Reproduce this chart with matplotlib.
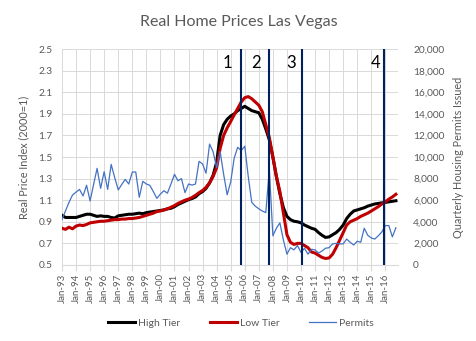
#!/usr/bin/env python3

import pandas as pd
import matplotlib.pyplot as plt
import matplotlib.dates as mdates
from matplotlib.transforms import blended_transform_factory

plt.rcParams['font.family'] = ['Lato', 'DejaVu Sans']

# quarterly values, Jan-93 .. Oct-16
dates = pd.date_range('1993-01-01', periods=96, freq='QS')

high_tier = [
    0.96, 0.94, 0.94, 0.94, 0.94, 0.95, 0.96, 0.97,
    0.97, 0.96, 0.95, 0.955, 0.95, 0.95, 0.94, 0.935,
    0.955, 0.96, 0.965, 0.97, 0.97, 0.975, 0.98, 0.975,
    0.985, 0.99, 0.995, 1.0, 1.005, 1.01, 1.02, 1.025,
    1.04, 1.06, 1.075, 1.09, 1.105, 1.115, 1.13, 1.16,
    1.18, 1.21, 1.26, 1.33, 1.45, 1.70, 1.80, 1.85,
    1.88, 1.90, 1.93, 1.95, 1.97, 1.95, 1.93, 1.92,
    1.91, 1.85, 1.76, 1.66, 1.50, 1.32, 1.16, 1.03,
    0.95, 0.92, 0.905, 0.90, 0.89, 0.87, 0.855, 0.84,
    0.83, 0.80, 0.775, 0.755, 0.76, 0.78, 0.80, 0.83,
    0.87, 0.93, 0.97, 1.0, 1.01, 1.02, 1.03, 1.045,
    1.055, 1.065, 1.07, 1.075, 1.08, 1.085, 1.09, 1.095,
]

low_tier = [
    0.84, 0.83, 0.85, 0.835, 0.86, 0.87, 0.865, 0.875,
    0.89, 0.895, 0.90, 0.905, 0.905, 0.91, 0.915, 0.92,
    0.92, 0.925, 0.925, 0.93, 0.93, 0.935, 0.94, 0.95,
    0.96, 0.97, 0.98, 0.995, 1.0, 1.01, 1.02, 1.035,
    1.05, 1.07, 1.085, 1.10, 1.11, 1.125, 1.145, 1.17,
    1.19, 1.22, 1.26, 1.32, 1.40, 1.58, 1.70, 1.77,
    1.83, 1.89, 1.95, 2.01, 2.05, 2.06, 2.04, 2.01,
    1.98, 1.92, 1.80, 1.68, 1.50, 1.32, 1.18, 0.98,
    0.78, 0.71, 0.69, 0.70, 0.70, 0.68, 0.66, 0.62,
    0.61, 0.59, 0.57, 0.56, 0.565, 0.60, 0.66, 0.73,
    0.80, 0.87, 0.90, 0.915, 0.93, 0.95, 0.965, 0.98,
    1.0, 1.02, 1.04, 1.065, 1.085, 1.11, 1.13, 1.155,
]

permits = [
    4200, 5000, 5800, 6480, 6750, 7000, 6390, 7380,
    5930, 7450, 8950, 7100, 8640, 7000, 9320, 8100,
    6950, 7450, 7930, 7500, 8610, 8610, 6270, 7750,
    7500, 7380, 6800, 6170, 6570, 6880, 6650, 7500,
    8400, 7800, 8000, 6700, 7500, 7400, 7500, 9600,
    9350, 8500, 11200, 10500, 9000, 10500, 8400, 6500,
    7700, 9900, 10900, 10600, 11000, 8200, 5800, 5450,
    5200, 5000, 4850, 8850, 2700, 3400, 3900, 2300,
    1000, 1600, 1400, 1800, 1150, 1550, 1000, 1450,
    1400, 1100, 1300, 1550, 1600, 1950, 2000, 1950,
    1950, 2400, 2100, 1850, 2200, 2100, 3400, 2750,
    2500, 2400, 2700, 3050, 3650, 3650, 2600, 3450,
]

# period markers
marker_dates = pd.to_datetime(['2005-10-01', '2007-09-20', '2010-01-15', '2015-12-05'])
marker_labels = ['1', '2', '3', '4']

GRAY = '#595959'
GRID = '#D9D9D9'

fig = plt.figure(figsize=(4.77, 3.41), dpi=100)
fig.subplots_adjust(left=0.130, right=0.834, top=0.856, bottom=0.223)
ax = fig.add_subplot(111)
ax2 = ax.twinx()

ax.plot(dates, high_tier, color='black', lw=2.2, label='High Tier')
ax.plot(dates, low_tier, color='#C00000', lw=2.2, label='Low Tier')
ax2.plot(dates, permits, color='#4472C4', lw=0.9, label='Permits')

ax.set_ylim(0.5, 2.5)
ax.set_yticks([0.5 + 0.2 * i for i in range(11)])
ax.yaxis.set_major_formatter(plt.FuncFormatter(lambda v, p: f'{v:.1f}'))
ax2.set_ylim(0, 20000)
ax2.set_yticks(range(0, 20001, 2000))
ax2.yaxis.set_major_formatter(plt.FuncFormatter(lambda v, p: f'{int(v):,}'))

ax.set_xlim(pd.Timestamp('1993-01-01'), pd.Timestamp('2016-11-20'))
ax.set_xticks(pd.date_range('1993-01-01', '2016-01-01', freq='YS'))
ax.xaxis.set_major_formatter(mdates.DateFormatter('%b-%y'))
plt.setp(ax.get_xticklabels(), rotation=90)

ax.grid(True, color=GRID, lw=0.7)
ax.set_axisbelow(True)
for a in (ax, ax2):
    for s in a.spines.values():
        s.set_visible(False)
ax.spines['bottom'].set_visible(True)
ax.spines['bottom'].set_color(GRID)

ax.tick_params(axis='y', length=0, labelsize=7.3, labelcolor=GRAY, pad=7)
ax2.tick_params(axis='y', length=0, labelsize=7.3, labelcolor=GRAY, pad=11)
ax.tick_params(axis='x', length=4, color=GRID, labelsize=7.0, labelcolor=GRAY, pad=2)

ax.set_ylabel('Real Price Index (2000=1)', color=GRAY, fontsize=7.8, labelpad=6)
ax2.set_ylabel('Quarterly Housing Permits Issued', color=GRAY, fontsize=7.8, labelpad=6)

fig.text(0.501, 0.935, 'Real Home Prices Las Vegas', ha='center', va='center',
         color=GRAY, fontsize=11.5)

# vertical period lines with their numbers
tr = blended_transform_factory(ax2.transData, ax2.transAxes)
offsets = [-10, -9, -7.5, -6.5]
for d, lab, off in zip(marker_dates, marker_labels, offsets):
    ax2.axvline(d, color='#002060', lw=1.5)
    ax2.annotate(lab, xy=(mdates.date2num(d), 0.935), xycoords=tr,
                 xytext=(off, 0), textcoords='offset points',
                 ha='center', va='center', fontsize=12, color='black')

h1, l1 = ax.get_legend_handles_labels()
h2, l2 = ax2.get_legend_handles_labels()
fig.legend(h1 + h2, l1 + l2, loc='center', bbox_to_anchor=(0.505, 0.053), ncol=3,
           frameon=False, fontsize=7.5, labelcolor=GRAY, handlelength=2.6,
           handletextpad=0.3, columnspacing=2.8)

fig.savefig('out.png', dpi=100)
